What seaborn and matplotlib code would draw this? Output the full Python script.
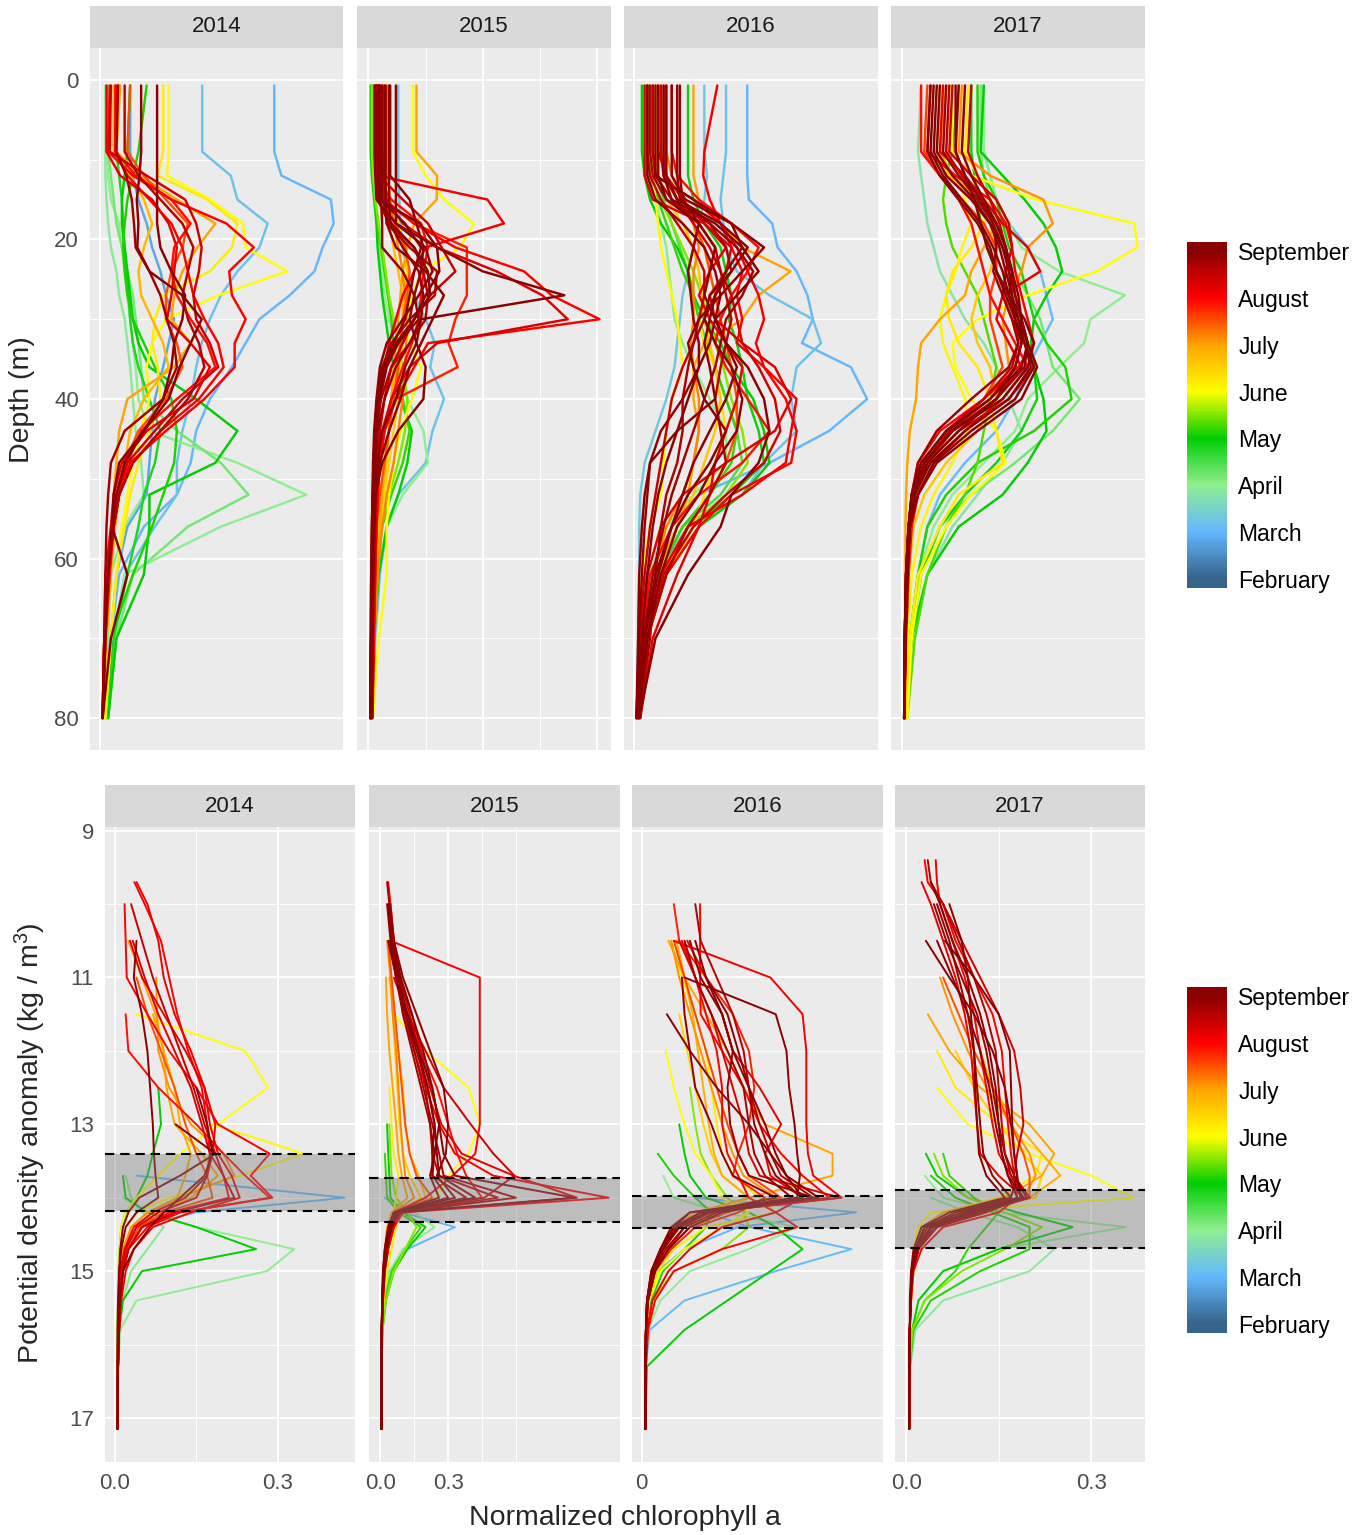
import pandas as pd
import matplotlib
matplotlib.use("Agg")
import matplotlib.pyplot as plt
from matplotlib.colors import LinearSegmentedColormap, Normalize
from matplotlib.cm import ScalarMappable
import seaborn as sns

years = [2014, 2015, 2016, 2017]
months = ["February", "March", "April", "May", "June", "July", "August", "September"]
month_num = [2, 3, 4, 5, 6, 7, 8, 9]
month_cols = ["#36648B", "#63B8FF", "#90EE90", "#00CD00", "#FFFF00", "#FFA500", "#FF0000", "#8B0000"]

# levels of the profiles
depth_lvls = [0.7, 9, 12, 15, 18, 21, 24, 27, 30, 33, 36, 40, 44, 48, 52, 56, 62, 70, 80]
sigma_lvls = [9.4, 9.7, 10.0, 10.5, 11.0, 11.5, 12.0, 12.5, 13.0, 13.4, 13.7, 14.0, 14.2, 14.4, 14.7,
              15.0, 15.4, 15.8, 16.3, 17.15]

_ = None
# normalized chl a (x1000), one profile per row: (month, values on depth_lvls)
depth_2014 = [
    (3.0, [317, 317, 330, 420, 425, 405, 390, 345, 290, 265, 240, 200, 175, 165, 140, 80, 35, 20, 10]),
    (3.2, [186, 186, 238, 250, 305, 290, 250, 220, 200, 185, 175, 165, 150, 140, 140, 100, 45, 25, 15]),
    (2.8, [55, 55, 60, 70, 85, 95, 110, 120, 135, 125, 115, 100, 95, 90, 85, 50, 30, 20, 15]),
    (4.0, [12, 12, 15, 20, 35, 40, 45, 50, 55, 60, 65, 70, 90, 250, 375, 220, 45, 30, 15]),
    (4.2, [15, 15, 20, 25, 30, 40, 50, 60, 65, 70, 75, 80, 140, 220, 270, 160, 60, 30, 15]),
    (3.9, [10, 10, 10, 12, 15, 20, 30, 35, 45, 50, 55, 60, 65, 75, 80, 45, 20, 15, 10]),
    (5.0, [55, 50, 45, 40, 40, 45, 50, 55, 60, 70, 90, 175, 250, 210, 90, 90, 80, 30, 15]),
    (5.1, [85, 70, 60, 50, 45, 42, 45, 50, 60, 80, 100, 130, 140, 135, 115, 95, 60, 20, 12]),
    (4.8, [35, 30, 35, 40, 42, 45, 48, 52, 55, 60, 70, 90, 110, 100, 80, 70, 50, 25, 12]),
    (6.0, [125, 125, 122, 200, 260, 265, 340, 215, 120, 95, 85, 90, 75, 60, 50, 40, 30, 20, 10]),
    (6.2, [115, 115, 105, 195, 250, 240, 200, 115, 100, 95, 105, 110, 90, 70, 55, 45, 30, 20, 10]),
    (7.0, [37, 30, 73, 140, 210, 177, 150, 135, 130, 165, 135, 50, 35, 30, 25, 22, 18, 12, 5]),
    (6.8, [25, 25, 55, 80, 95, 80, 70, 75, 95, 115, 125, 80, 55, 45, 35, 28, 20, 12, 5]),
    (7.5, [55, 50, 80, 120, 160, 150, 130, 120, 120, 140, 150, 120, 70, 45, 30, 22, 15, 8, 5]),
    (8.0, [18, 15, 60, 130, 230, 280, 235, 240, 265, 245, 245, 190, 120, 55, 35, 25, 15, 10, 5]),
    (8.0, [30, 28, 50, 90, 130, 150, 160, 170, 190, 215, 225, 180, 110, 60, 35, 25, 15, 8, 5]),
    (7.9, [28, 28, 65, 130, 165, 135, 130, 140, 165, 195, 210, 140, 75, 50, 35, 25, 18, 10, 5]),
    (8.2, [12, 12, 37, 95, 125, 140, 135, 130, 122, 165, 200, 170, 85, 40, 25, 20, 10, 8, 5]),
    (8.4, [20, 18, 85, 155, 175, 185, 180, 170, 175, 200, 215, 150, 100, 50, 30, 22, 15, 8, 5]),
    (8.6, [45, 45, 70, 110, 150, 170, 160, 150, 160, 180, 190, 160, 110, 60, 35, 25, 15, 8, 5]),
    (9.0, [75, 75, 72, 67, 70, 68, 90, 150, 185, 165, 145, 125, 80, 35, 25, 22, 50, 20, 5]),
    (9.1, [104, 104, 104, 104, 104, 110, 130, 155, 150, 135, 130, 115, 80, 45, 30, 22, 15, 10, 5]),
    (8.8, [33, 30, 48, 58, 62, 65, 90, 110, 122, 135, 140, 115, 45, 20, 15, 12, 10, 8, 5]),
]
depth_2015 = [
    (8.1, [34, 34, 40, 520, 592, 250, 200, 150, 120, 90, 70, 50, 40, 35, 30, 28, 25, 20, 15]),
    (8.0, [50, 50, 55, 70, 200, 380, 680, 800, 1010, 260, 200, 120, 70, 50, 40, 35, 30, 25, 18]),
    (9.0, [120, 120, 120, 120, 120, 300, 500, 856, 230, 210, 160, 120, 60, 40, 30, 25, 20, 18, 15]),
    (8.3, [60, 60, 65, 80, 150, 300, 560, 760, 871, 300, 180, 100, 60, 45, 35, 30, 25, 20, 15]),
    (7.8, [30, 30, 40, 60, 200, 430, 430, 430, 380, 350, 390, 120, 70, 50, 40, 35, 28, 20, 15]),
    (7.0, [210, 210, 300, 298, 200, 170, 150, 140, 130, 120, 110, 100, 90, 70, 60, 50, 40, 25, 15]),
    (6.0, [195, 195, 250, 330, 460, 400, 230, 190, 170, 180, 230, 190, 140, 110, 90, 80, 80, 45, 20]),
    (3.2, [130, 130, 130, 135, 140, 150, 170, 200, 250, 290, 270, 330, 280, 250, 130, 80, 50, 30, 20]),
    (4.0, [15, 15, 20, 30, 40, 50, 60, 70, 90, 110, 130, 170, 240, 260, 150, 80, 40, 25, 15]),
    (5.0, [10, 10, 15, 25, 35, 40, 50, 60, 75, 90, 110, 140, 190, 170, 130, 80, 45, 25, 12]),
    (5.2, [20, 20, 25, 30, 40, 55, 70, 85, 100, 110, 125, 150, 180, 150, 100, 60, 35, 20, 10]),
    (5.5, [15, 15, 20, 30, 45, 60, 75, 90, 110, 130, 150, 170, 160, 130, 90, 50, 30, 18, 10]),
    (6.5, [70, 70, 75, 90, 130, 160, 170, 160, 150, 150, 140, 130, 110, 90, 70, 50, 35, 22, 12]),
    (7.5, [40, 40, 45, 60, 120, 160, 180, 170, 150, 140, 130, 110, 90, 70, 50, 35, 25, 18, 10]),
    (9.0, [41, 41, 41, 45, 225, 300, 310, 250, 200, 120, 70, 45, 35, 30, 25, 22, 20, 15, 10]),
    (9.2, [75, 75, 75, 75, 80, 120, 250, 330, 280, 230, 180, 140, 90, 50, 30, 25, 20, 15, 10]),
    (8.9, [50, 50, 50, 55, 60, 60, 150, 200, 220, 130, 60, 40, 30, 25, 22, 20, 18, 12, 8]),
    (9.1, [95, 95, 95, 180, 210, 240, 230, 200, 180, 210, 250, 240, 130, 60, 30, 25, 20, 15, 10]),
    (8.5, [45, 45, 45, 150, 260, 320, 380, 270, 200, 150, 100, 70, 50, 40, 35, 30, 25, 18, 12]),
    (7.2, [80, 80, 85, 95, 110, 130, 150, 160, 170, 165, 160, 150, 130, 110, 80, 60, 40, 25, 15]),
    (6.7, [60, 60, 65, 75, 90, 110, 130, 150, 150, 140, 120, 100, 90, 80, 60, 40, 30, 20, 12]),
    (7.9, [25, 25, 30, 100, 230, 260, 240, 230, 220, 190, 150, 100, 70, 50, 40, 35, 30, 22, 15]),
    (9.0, [30, 30, 30, 35, 120, 250, 280, 220, 150, 80, 50, 35, 25, 20, 18, 15, 12, 10, 8]),
    (9.1, [60, 60, 60, 60, 100, 200, 260, 270, 200, 130, 80, 50, 35, 25, 20, 18, 15, 12, 8]),
    (8.9, [90, 90, 90, 90, 95, 150, 220, 240, 230, 180, 120, 70, 40, 30, 25, 20, 15, 12, 8]),
    (9.2, [45, 45, 45, 50, 160, 230, 200, 180, 160, 110, 70, 45, 30, 22, 18, 15, 12, 10, 8]),
    (8.7, [70, 70, 70, 75, 80, 180, 300, 290, 180, 100, 60, 40, 30, 25, 20, 18, 15, 12, 8]),
    (8.6, [35, 35, 35, 40, 90, 200, 240, 260, 250, 180, 100, 55, 35, 25, 20, 18, 15, 12, 8]),
]
depth_2016 = [
    (3.0, [209, 209, 209, 212, 255, 265, 300, 320, 330, 310, 400, 430, 360, 250, 120, 60, 30, 20, 12]),
    (3.2, [170, 170, 165, 160, 165, 170, 190, 250, 330, 345, 300, 290, 300, 240, 200, 100, 40, 20, 12]),
    (3.3, [130, 130, 135, 130, 120, 110, 100, 90, 85, 80, 75, 60, 40, 20, 12, 10, 10, 8, 6]),
    (8.1, [154, 130, 128, 140, 160, 190, 210, 230, 240, 225, 240, 300, 290, 280, 200, 100, 50, 25, 12]),
    (6.0, [30, 30, 35, 40, 45, 50, 60, 70, 80, 85, 90, 70, 60, 55, 50, 30, 15, 10, 5]),
    (4.0, [20, 20, 25, 40, 50, 60, 65, 70, 75, 90, 110, 140, 170, 170, 110, 60, 30, 15, 8]),
    (4.5, [35, 35, 40, 55, 70, 85, 100, 110, 120, 135, 150, 170, 190, 200, 160, 90, 45, 20, 8]),
    (5.0, [15, 15, 20, 30, 50, 80, 100, 110, 130, 160, 180, 220, 240, 250, 200, 120, 60, 25, 10]),
    (5.2, [28, 28, 30, 45, 60, 75, 90, 110, 120, 130, 150, 170, 190, 180, 140, 90, 45, 20, 10]),
    (5.5, [25, 25, 30, 50, 70, 90, 110, 125, 140, 150, 165, 180, 200, 210, 170, 100, 50, 20, 8]),
    (4.9, [100, 100, 100, 110, 130, 160, 170, 180, 175, 190, 200, 210, 230, 240, 180, 110, 55, 25, 10]),
    (7.0, [110, 110, 110, 120, 160, 200, 289, 230, 200, 130, 110, 110, 120, 110, 100, 80, 40, 20, 10]),
    (7.2, [60, 60, 70, 90, 110, 120, 110, 110, 110, 105, 110, 120, 120, 110, 90, 60, 35, 20, 10]),
    (6.3, [50, 50, 55, 80, 110, 130, 140, 130, 120, 130, 150, 160, 170, 150, 130, 110, 60, 25, 10]),
    (6.6, [40, 40, 45, 60, 90, 110, 120, 125, 130, 140, 150, 160, 150, 130, 110, 80, 45, 20, 8]),
    (7.5, [55, 55, 60, 80, 110, 130, 140, 150, 160, 170, 180, 190, 190, 170, 140, 100, 50, 20, 8]),
    (8.0, [35, 35, 40, 110, 160, 180, 200, 190, 200, 190, 240, 280, 300, 290, 180, 120, 60, 25, 10]),
    (8.2, [45, 45, 60, 90, 130, 170, 140, 120, 140, 170, 200, 190, 170, 150, 140, 120, 80, 35, 12]),
    (7.9, [70, 70, 80, 120, 180, 230, 210, 180, 160, 150, 170, 210, 250, 200, 120, 70, 30, 15, 8]),
    (8.5, [25, 25, 30, 50, 80, 110, 130, 130, 120, 110, 90, 70, 60, 50, 40, 30, 20, 10, 5]),
    (8.4, [50, 50, 55, 80, 110, 140, 160, 180, 190, 200, 230, 260, 270, 240, 170, 110, 55, 25, 8]),
    (8.6, [35, 35, 40, 70, 120, 150, 160, 170, 180, 170, 160, 150, 160, 170, 140, 100, 60, 25, 8]),
    (9.0, [40, 40, 40, 110, 180, 200, 170, 150, 140, 130, 140, 150, 80, 30, 20, 15, 10, 8, 5]),
    (9.1, [55, 55, 55, 70, 150, 200, 230, 190, 150, 170, 210, 240, 250, 230, 180, 160, 100, 40, 10]),
    (8.9, [85, 85, 85, 90, 120, 110, 100, 105, 110, 120, 120, 90, 50, 30, 25, 20, 15, 10, 5]),
    (9.2, [70, 70, 70, 95, 180, 240, 200, 160, 120, 100, 110, 130, 170, 140, 100, 70, 40, 20, 8]),
    (8.7, [30, 30, 35, 60, 140, 170, 180, 150, 130, 110, 100, 90, 90, 80, 60, 50, 40, 30, 10]),
    (8.3, [20, 20, 20, 35, 130, 180, 170, 140, 150, 200, 260, 290, 260, 170, 90, 50, 25, 12, 6]),
    (9.0, [60, 60, 60, 80, 160, 210, 180, 140, 130, 150, 180, 200, 190, 150, 120, 80, 50, 25, 8]),
    (9.1, [45, 45, 45, 60, 120, 150, 140, 130, 150, 170, 190, 170, 140, 110, 90, 70, 45, 20, 8]),
    (8.8, [80, 80, 80, 85, 140, 190, 220, 200, 170, 160, 150, 130, 110, 90, 70, 55, 35, 18, 6]),
    (9.2, [25, 25, 25, 40, 90, 130, 150, 160, 150, 140, 120, 100, 80, 60, 45, 35, 25, 15, 5]),
]
depth_2017 = [
    (6.0, [79, 79, 110, 213, 370, 375, 310, 200, 120, 80, 85, 110, 150, 165, 110, 70, 30, 15, 8]),
    (4.0, [130, 130, 140, 150, 170, 190, 250, 355, 300, 290, 250, 200, 180, 130, 80, 50, 25, 12, 6]),
    (4.2, [125, 125, 130, 140, 150, 160, 180, 200, 220, 230, 240, 283, 240, 180, 110, 60, 30, 15, 6]),
    (3.8, [30, 25, 30, 35, 40, 50, 60, 80, 100, 130, 150, 170, 190, 160, 120, 80, 40, 15, 6]),
    (5.0, [130, 125, 160, 195, 225, 245, 255, 230, 210, 205, 210, 225, 230, 200, 160, 90, 40, 15, 6]),
    (5.1, [120, 120, 130, 150, 160, 170, 190, 200, 210, 230, 260, 270, 210, 120, 70, 40, 25, 12, 6]),
    (4.9, [110, 110, 115, 120, 125, 135, 150, 170, 190, 200, 210, 215, 190, 150, 100, 60, 30, 15, 6]),
    (5.3, [90, 80, 70, 65, 70, 80, 100, 120, 130, 140, 150, 140, 130, 120, 100, 70, 40, 20, 8]),
    (3.1, [130, 130, 140, 150, 170, 200, 220, 230, 240, 220, 200, 180, 150, 100, 60, 40, 25, 12, 6]),
    (7.0, [70, 60, 80, 120, 150, 130, 110, 100, 60, 30, 25, 22, 12, 8, 6, 5, 5, 4, 3]),
    (7.1, [95, 90, 140, 225, 240, 200, 190, 170, 160, 165, 170, 150, 80, 40, 25, 15, 10, 6, 4]),
    (6.6, [60, 55, 75, 110, 140, 150, 140, 120, 110, 120, 140, 150, 120, 70, 35, 18, 10, 6, 3]),
    (7.6, [40, 35, 60, 95, 130, 150, 150, 140, 140, 150, 160, 130, 80, 40, 20, 12, 8, 5, 3]),
    (8.0, [45, 40, 85, 140, 165, 175, 180, 190, 200, 210, 185, 130, 60, 25, 15, 10, 8, 5, 3]),
    (8.2, [65, 60, 100, 130, 160, 200, 220, 160, 150, 170, 190, 150, 80, 35, 18, 12, 8, 5, 3]),
    (7.9, [30, 30, 60, 90, 110, 120, 130, 140, 160, 180, 200, 160, 100, 50, 25, 15, 10, 6, 3]),
    (8.4, [80, 75, 110, 150, 170, 175, 165, 160, 175, 195, 210, 170, 90, 40, 20, 12, 8, 5, 3]),
    (8.6, [75, 70, 95, 125, 150, 165, 175, 180, 190, 190, 180, 140, 75, 35, 18, 10, 6, 4, 3]),
    (8.5, [110, 105, 120, 140, 155, 165, 170, 175, 180, 185, 175, 130, 70, 30, 15, 10, 6, 4, 3]),
    (9.0, [55, 50, 70, 110, 140, 160, 175, 185, 190, 200, 190, 140, 70, 30, 15, 10, 6, 4, 3]),
    (9.1, [100, 95, 110, 130, 150, 165, 175, 170, 180, 190, 180, 150, 90, 40, 20, 12, 8, 5, 3]),
    (8.8, [70, 65, 90, 120, 145, 150, 145, 160, 175, 185, 170, 110, 55, 25, 15, 10, 6, 4, 3]),
    (9.2, [85, 85, 100, 115, 125, 135, 150, 170, 195, 210, 200, 160, 80, 35, 18, 10, 6, 4, 3]),
    (9.0, [60, 55, 80, 115, 140, 155, 165, 175, 185, 195, 205, 170, 100, 45, 20, 12, 8, 5, 3]),
    (8.9, [90, 85, 100, 125, 145, 160, 170, 180, 190, 200, 195, 150, 80, 35, 18, 10, 6, 4, 3]),
    (9.1, [45, 40, 60, 90, 120, 140, 150, 165, 180, 195, 210, 180, 110, 50, 25, 12, 8, 5, 3]),
    (9.2, [50, 45, 65, 95, 125, 145, 160, 170, 185, 200, 215, 190, 120, 55, 25, 12, 8, 5, 3]),
    (6.2, [105, 100, 120, 140, 130, 110, 80, 70, 75, 90, 120, 140, 150, 160, 90, 60, 25, 12, 5]),
    (6.1, [75, 70, 90, 100, 110, 95, 85, 70, 60, 65, 80, 100, 105, 80, 50, 30, 15, 8, 4]),
]

# normalized chl a (x1000) on sigma_lvls, None above the surface
sigma_2014 = [
    (8.0, [_, 36, 55, 85, 100, 115, 135, 160, 170, 175, 200, 210, 100, 50, 25, 15, 10, 8, 6, 5]),
    (8.1, [_, 40, 60, 80, 90, 110, 140, 165, 175, 190, 215, 230, 140, 70, 35, 20, 12, 8, 6, 5]),
    (8.0, [_, _, 18, 20, 22, 60, 100, 150, 190, 285, 250, 290, 120, 60, 25, 15, 10, 8, 6, 5]),
    (8.3, [_, _, _, 33, 55, 80, 110, 140, 160, 175, 170, 150, 80, 40, 20, 12, 9, 7, 6, 5]),
    (7.9, [_, _, _, _, _, 20, 25, 80, 150, 200, 240, 285, 120, 50, 25, 15, 10, 8, 6, 5]),
    (8.2, [_, _, _, 28, 50, 90, 130, 165, 185, 180, 170, 130, 70, 35, 18, 10, 8, 6, 5, 5]),
    (8.5, [_, _, 30, 50, 70, 95, 120, 145, 165, 185, 200, 220, 110, 50, 25, 15, 10, 8, 6, 5]),
    (7.5, [_, _, _, _, 40, 60, 85, 110, 130, 150, 170, 180, 90, 45, 22, 12, 9, 7, 6, 5]),
    (9.0, [_, _, _, 40, 35, 50, 60, 65, 70, 72, 75, 80, 40, 20, 12, 8, 6, 5, 5, 5]),
    (9.1, [_, _, _, _, _, _, _, _, 112, 185, 120, 45, 25, 15, 10, 8, 7, 6, 5, 5]),
    (9.0, [_, _, _, _, _, _, _, 150, 170, 180, 165, 120, 90, 65, 35, 15, 9, 7, 6, 5]),
    (7.0, [_, _, _, 25, 50, 75, 90, 95, 110, 160, 190, 140, 80, 40, 20, 12, 9, 7, 6, 5]),
    (7.1, [_, _, _, _, 76, 78, 80, 100, 140, 200, 220, 120, 60, 30, 15, 10, 8, 6, 5, 5]),
    (6.9, [_, _, _, _, _, 70, 90, 110, 120, 140, 130, 115, 60, 30, 20, 12, 9, 7, 6, 5]),
    (6.0, [_, _, _, _, _, 40, 240, 282, 190, 120, 80, 40, 20, 12, 9, 7, 6, 5, 5, 5]),
    (6.1, [_, _, _, _, _, _, _, _, 180, 347, 230, 100, 40, 20, 12, 9, 7, 6, 5, 5]),
    (3.0, [_, _, _, _, _, _, _, _, _, _, 40, 423, 150, 40, 20, 12, 9, 7, 6, 5]),
    (5.0, [_, _, _, _, _, _, _, _, _, _, 15, 20, 60, 150, 260, 50, 15, 8, 6, 5]),
    (4.0, [_, _, _, _, _, _, _, _, _, _, _, 15, 60, 150, 330, 280, 40, 10, 7, 5]),
    (5.0, [_, _, _, _, _, _, _, 80, 85, 70, 60, 40, 20, 12, 9, 7, 6, 5, 5, 5]),
    (4.1, [_, _, _, _, _, _, _, _, _, _, 20, 30, 50, 90, 60, 30, 15, 8, 6, 5]),
]
sigma_2015 = [
    (8.0, [_, 35, 45, 60, 80, 100, 150, 200, 260, 330, 500, 1010, 100, 60, 35, 20, 12, 8, 6, 5]),
    (9.0, [_, _, _, 50, 90, 140, 190, 230, 260, 280, 330, 860, 80, 50, 30, 18, 10, 7, 6, 5]),
    (8.1, [_, _, _, 45, 440, 440, 440, 440, 440, 420, 320, 200, 60, 40, 25, 15, 10, 7, 6, 5]),
    (8.2, [_, _, 40, 60, 90, 140, 180, 220, 270, 360, 590, 870, 90, 50, 30, 18, 10, 7, 6, 5]),
    (7.0, [_, _, _, _, 25, 30, 40, 55, 70, 80, 95, 120, 50, 30, 20, 12, 8, 6, 5, 5]),
    (7.2, [_, _, _, 30, 45, 55, 70, 80, 90, 100, 110, 150, 60, 40, 25, 15, 9, 6, 5, 5]),
    (6.8, [_, _, _, _, 40, 60, 80, 100, 110, 130, 170, 200, 70, 45, 30, 18, 10, 7, 5, 5]),
    (7.5, [_, _, _, 35, 50, 65, 80, 95, 110, 130, 160, 230, 70, 45, 30, 18, 10, 7, 5, 5]),
    (6.5, [_, _, _, _, 45, 55, 65, 75, 85, 100, 130, 180, 80, 50, 35, 20, 11, 7, 5, 5]),
    (6.0, [_, _, _, _, _, 60, 200, 390, 440, 390, 300, 250, 80, 50, 35, 20, 12, 8, 6, 5]),
    (6.2, [_, _, _, _, _, _, _, 40, 50, 60, 80, 70, 60, 70, 50, 30, 15, 8, 6, 5]),
    (5.0, [_, _, _, _, _, _, _, _, 30, 35, 40, 45, 100, 200, 120, 60, 25, 10, 6, 5]),
    (5.2, [_, _, _, _, _, _, _, _, _, 20, 25, 30, 80, 180, 110, 50, 20, 8, 6, 5]),
    (5.5, [_, _, _, _, _, _, _, _, 40, 45, 50, 70, 120, 160, 110, 60, 25, 10, 6, 5]),
    (3.0, [_, _, _, _, _, _, _, _, _, _, _, 20, 100, 330, 120, 40, 15, 8, 6, 5]),
    (4.0, [_, _, _, _, _, _, _, _, _, _, _, 25, 150, 240, 100, 40, 15, 8, 6, 5]),
    (9.1, [_, _, 40, 60, 100, 160, 220, 280, 300, 290, 250, 330, 70, 40, 25, 15, 9, 6, 5, 5]),
    (9.2, [_, _, _, 35, 70, 110, 170, 230, 260, 240, 220, 260, 60, 35, 20, 12, 8, 6, 5, 5]),
    (8.4, [_, _, _, _, 60, 120, 200, 280, 400, 500, 593, 460, 90, 50, 30, 18, 10, 7, 5, 5]),
    (8.8, [_, _, 30, 45, 70, 100, 140, 180, 220, 240, 230, 380, 80, 45, 25, 15, 9, 6, 5, 5]),
    (7.9, [_, _, _, 40, 70, 120, 180, 250, 300, 340, 380, 450, 100, 60, 35, 20, 12, 8, 6, 5]),
    (9.0, [_, _, 35, 50, 80, 120, 170, 210, 240, 250, 260, 420, 70, 40, 25, 15, 9, 6, 5, 5]),
    (8.7, [_, 30, 40, 55, 80, 110, 150, 190, 230, 260, 280, 600, 80, 45, 25, 15, 9, 6, 5, 5]),
    (9.1, [_, _, _, 45, 75, 110, 160, 210, 240, 230, 230, 300, 60, 35, 20, 12, 8, 6, 5, 5]),
    (8.5, [_, _, 45, 60, 85, 130, 170, 200, 220, 230, 260, 520, 90, 50, 30, 18, 10, 7, 5, 5]),
]
sigma_2016 = [
    (8.0, [_, _, 109, 109, 109, 110, 150, 190, 220, 260, 300, 350, 120, 70, 40, 20, 10, 8, 7, 7]),
    (8.1, [_, _, _, 60, 240, 300, 307, 307, 307, 310, 320, 373, 120, 80, 50, 25, 12, 8, 7, 7]),
    (9.0, [_, _, _, _, _, 47, 90, 140, 200, 240, 270, 300, 90, 60, 40, 20, 10, 8, 7, 7]),
    (9.1, [_, _, _, _, 80, 250, 270, 275, 285, 290, 295, 290, 90, 55, 35, 18, 10, 8, 7, 7]),
    (7.0, [_, _, _, 50, 80, 120, 160, 190, 230, 356, 356, 200, 100, 60, 35, 18, 10, 8, 7, 7]),
    (7.1, [_, _, _, 55, 70, 90, 110, 130, 150, 170, 190, 250, 110, 70, 40, 20, 10, 8, 7, 7]),
    (6.0, [_, _, _, _, _, _, 45, 60, 80, 100, 130, 150, 200, 150, 80, 35, 14, 9, 8, 7]),
    (6.2, [_, _, _, 55, 75, 100, 120, 130, 140, 150, 170, 220, 250, 120, 60, 30, 14, 9, 8, 7]),
    (6.5, [_, _, _, _, _, 70, 85, 100, 115, 130, 150, 200, 150, 90, 50, 25, 12, 9, 7, 7]),
    (5.0, [_, _, _, _, _, _, _, _, 70, 80, 90, 120, 200, 250, 300, 240, 160, 80, 10, 7]),
    (5.1, [_, _, _, _, _, _, _, _, _, 30, 60, 100, 130, 120, 80, 40, 18, 10, 8, 7]),
    (5.5, [_, _, _, _, _, _, _, 90, 100, 110, 130, 160, 190, 200, 150, 60, 20, 10, 8, 7]),
    (4.0, [_, _, _, _, _, _, _, _, _, _, 40, 60, 150, 290, 200, 90, 35, 12, 8, 7]),
    (3.0, [_, _, _, _, _, _, _, _, _, _, _, 100, 400, 180, 80, 30, 14, 9, 8, 7]),
    (3.1, [_, _, _, _, _, _, _, _, _, _, _, _, 120, 200, 391, 250, 80, 15, 8, 7]),
    (8.3, [_, _, _, 70, 100, 130, 150, 170, 190, 200, 220, 370, 120, 70, 40, 20, 11, 8, 7, 7]),
    (8.2, [_, _, _, 85, 120, 150, 170, 220, 260, 230, 240, 300, 250, 150, 90, 50, 20, 10, 7, 7]),
    (8.9, [_, _, _, 90, 110, 150, 170, 160, 165, 180, 200, 320, 110, 65, 40, 20, 11, 8, 7, 7]),
    (9.2, [_, _, _, _, 75, 80, 90, 100, 130, 150, 170, 250, 110, 60, 35, 18, 10, 8, 7, 7]),
    (6.9, [_, _, _, 65, 80, 95, 105, 115, 125, 135, 150, 200, 110, 65, 40, 20, 11, 8, 7, 7]),
    (7.8, [_, _, 60, 70, 120, 170, 200, 210, 200, 180, 170, 230, 180, 100, 55, 25, 12, 9, 7, 7]),
    (7.6, [_, _, _, 60, 80, 100, 120, 140, 160, 180, 200, 260, 160, 90, 50, 25, 12, 8, 7, 7]),
    (8.0, [_, _, _, 75, 100, 120, 140, 150, 150, 160, 180, 200, 250, 290, 150, 60, 25, 12, 8, 7]),
    (9.0, [_, _, _, 100, 120, 160, 180, 200, 210, 230, 250, 300, 150, 90, 50, 25, 12, 8, 7, 7]),
    (8.8, [_, _, _, 80, 100, 130, 160, 190, 200, 210, 230, 280, 140, 80, 45, 22, 11, 8, 7, 7]),
    (8.6, [_, _, 100, 110, 140, 170, 190, 200, 220, 240, 260, 320, 130, 70, 40, 20, 10, 8, 7, 7]),
    (9.1, [_, _, _, _, 120, 150, 170, 200, 230, 250, 270, 330, 120, 70, 40, 20, 10, 8, 7, 7]),
]
sigma_2017 = [
    (8.0, [30, 35, 60, 80, 110, 140, 155, 160, 165, 170, 175, 180, 150, 60, 25, 12, 8, 6, 6, 5]),
    (8.1, [48, 50, 55, 75, 95, 110, 120, 130, 140, 150, 170, 200, 120, 40, 20, 10, 8, 6, 6, 5]),
    (8.2, [_, 25, 40, 60, 80, 95, 105, 110, 115, 120, 150, 190, 110, 40, 18, 10, 7, 6, 5, 5]),
    (9.0, [_, _, _, 32, 70, 110, 140, 160, 170, 175, 180, 170, 90, 30, 15, 9, 7, 6, 5, 5]),
    (9.1, [_, _, _, 63, 110, 150, 168, 170, 172, 175, 180, 185, 100, 40, 18, 10, 7, 6, 5, 5]),
    (8.9, [_, _, 50, 70, 85, 100, 110, 115, 120, 125, 140, 170, 80, 30, 15, 9, 7, 6, 5, 5]),
    (9.2, [_, _, 70, 90, 100, 105, 110, 112, 115, 118, 130, 160, 70, 25, 12, 8, 6, 6, 5, 5]),
    (7.0, [_, _, _, _, _, 35, 70, 120, 200, 240, 220, 160, 60, 25, 15, 9, 7, 6, 5, 5]),
    (7.1, [_, _, _, _, 55, 75, 100, 130, 170, 200, 210, 190, 80, 30, 15, 10, 8, 6, 5, 5]),
    (7.5, [_, _, _, _, 60, 85, 110, 140, 170, 190, 200, 200, 100, 40, 18, 10, 7, 6, 5, 5]),
    (6.5, [_, _, _, _, _, _, 80, 110, 150, 190, 220, 210, 90, 40, 20, 12, 8, 6, 5, 5]),
    (6.0, [_, _, _, _, _, _, _, 50, 100, 200, 300, 368, 40, 20, 12, 9, 7, 6, 5, 5]),
    (6.2, [_, _, _, _, _, _, 50, 80, 150, 220, 210, 150, 60, 30, 20, 12, 8, 6, 5, 5]),
    (5.0, [_, _, _, _, _, _, _, _, _, 32, 50, 100, 180, 270, 150, 60, 20, 10, 6, 5]),
    (5.1, [_, _, _, _, _, _, _, _, _, _, 40, 80, 140, 200, 200, 120, 40, 12, 6, 5]),
    (5.5, [_, _, _, _, _, _, _, _, _, 45, 60, 100, 160, 220, 160, 90, 30, 10, 6, 5]),
    (4.0, [_, _, _, _, _, _, _, _, _, _, 30, 60, 150, 356, 150, 60, 20, 10, 6, 5]),
    (3.9, [_, _, _, _, _, _, _, _, _, _, _, 40, 100, 180, 240, 200, 60, 15, 7, 5]),
    (8.4, [_, _, 60, 90, 120, 150, 175, 185, 190, 180, 175, 200, 120, 50, 20, 10, 7, 6, 5, 5]),
    (6.9, [_, _, _, _, _, _, 120, 140, 180, 220, 250, 200, 90, 35, 15, 10, 7, 6, 5, 5]),
    (5.2, [_, _, _, _, _, _, _, _, _, 60, 70, 110, 150, 130, 100, 80, 30, 10, 6, 5]),
    (9.0, [_, 40, 55, 75, 100, 120, 135, 145, 150, 155, 165, 190, 110, 40, 18, 10, 7, 6, 5, 5]),
    (8.8, [_, _, 45, 65, 90, 115, 130, 140, 150, 160, 175, 195, 120, 45, 20, 10, 7, 6, 5, 5]),
    (9.1, [_, _, _, 50, 75, 100, 120, 135, 145, 155, 165, 180, 100, 35, 15, 9, 7, 6, 5, 5]),
    (8.6, [35, 40, 60, 85, 110, 130, 145, 150, 155, 160, 170, 190, 130, 50, 20, 10, 7, 6, 5, 5]),
]

# shaded density band per year (kg/m3)
band_lo = [13.40, 13.73, 13.97, 13.89]
band_hi = [14.18, 14.33, 14.41, 14.69]

depth_profiles = {2014: depth_2014, 2015: depth_2015, 2016: depth_2016, 2017: depth_2017}
sigma_profiles = {2014: sigma_2014, 2015: sigma_2015, 2016: sigma_2016, 2017: sigma_2017}


def to_long(profiles, levels, name):
    rows = []
    for yr, plist in profiles.items():
        for i, (m, vals) in enumerate(plist):
            for lv, v in zip(levels, vals):
                if v is not None:
                    rows.append({"year": yr, "cast": f"{yr}_{i}", "month": m, name: lv, "chl": v / 1000})
    return pd.DataFrame(rows)


top = to_long(depth_profiles, depth_lvls, "depth")
bot = to_long(sigma_profiles, sigma_lvls, "sigma")

# colour scale
lo_m, hi_m = 1.8, 9.2
norm = Normalize(lo_m, hi_m)
stops = [(0.0, month_cols[0])] + [((m - lo_m) / (hi_m - lo_m), c) for m, c in zip(month_num, month_cols)] \
    + [(1.0, month_cols[-1])]
cmap = LinearSegmentedColormap.from_list("months", stops)

sns.set_style("white")
plt.rcParams["font.family"] = ["Liberation Sans", "DejaVu Sans"]
plt.rcParams["mathtext.fontset"] = "custom"
plt.rcParams["mathtext.rm"] = "Liberation Sans"
plt.rcParams["mathtext.it"] = "Liberation Sans:italic"

W, H = 1370, 1535
fig = plt.figure(figsize=(W / 100, H / 100), dpi=100)


def px_ax(x0, x1, y0, y1):
    return fig.add_axes([x0 / W, 1 - y1 / H, (x1 - x0) / W, (y1 - y0) / H])


xlims = {2014: (-0.018, 0.442), 2015: (-0.05, 1.06), 2016: (-0.018, 0.45), 2017: (-0.018, 0.387)}
top_x = [(90, 343), (357, 611), (624, 878), (891, 1145)]
bot_x = [(105, 355), (369, 620), (632, 883), (895, 1145)]
top_vgrid = {2014: ([0], []), 2015: ([0, 0.5, 1.0], [0.25, 0.75]), 2016: ([0], []), 2017: ([0], [])}
bot_vgrid = {2014: ([0, 0.3], [0.15]), 2015: ([0, 0.3], [0.15, 0.45, 0.6]), 2016: ([0], []),
             2017: ([0, 0.3], [0.15])}
bot_xticks = {2014: ([0, 0.3], ["0.0", "0.3"]), 2015: ([0, 0.3], ["0.0", "0.3"]), 2016: ([0], ["0"]),
              2017: ([0, 0.3], ["0.0", "0.3"])}

MAJ, MIN = 1.3, 0.65
tick_kw = dict(length=4, width=1, color="#333333", labelsize=16, labelcolor="#4D4D4D", pad=4)


def style_panel(ax, hmaj, hmin, vmaj, vmin):
    ax.set_facecolor("#EBEBEB")
    for s in ax.spines.values():
        s.set_visible(False)
    for v in hmaj:
        ax.axhline(v, color="white", lw=MAJ, zorder=0.6)
    for v in hmin:
        ax.axhline(v, color="white", lw=MIN, zorder=0.6)
    for v in vmaj:
        ax.axvline(v, color="white", lw=MAJ, zorder=0.6)
    for v in vmin:
        ax.axvline(v, color="white", lw=MIN, zorder=0.6)
    ax.set_xlabel("")
    ax.set_ylabel("")


def strip(x0, x1, y0, y1, label):
    s = px_ax(x0, x1, y0, y1)
    s.set_facecolor("#D9D9D9")
    for sp in s.spines.values():
        sp.set_visible(False)
    s.set_xticks([])
    s.set_yticks([])
    s.text(0.5, 0.5, label, ha="center", va="center", fontsize=16, color="#1A1A1A", transform=s.transAxes)


for i, yr in enumerate(years):
    # depth profiles
    x0, x1 = top_x[i]
    ax = px_ax(x0, x1, 48, 750)
    sns.lineplot(data=top[top["year"] == yr], x="chl", y="depth", hue="month", units="cast",
                 estimator=None, sort=False, palette=cmap, hue_norm=norm, legend=False,
                 linewidth=1.75, ax=ax)
    style_panel(ax, [0, 20, 40, 60, 80], [10, 30, 50, 70], *top_vgrid[yr])
    ax.set_xlim(*xlims[yr])
    ax.set_ylim(84.0, -4.0)
    ax.set_xticks([])
    ax.set_yticks([0, 20, 40, 60, 80])
    if i == 0:
        ax.tick_params(axis="y", **tick_kw)
    else:
        ax.tick_params(axis="y", left=False, labelleft=False)
    strip(x0, x1, 6, 48, str(yr))

    # density profiles
    x0, x1 = bot_x[i]
    ax = px_ax(x0, x1, 827, 1462)
    sns.lineplot(data=bot[bot["year"] == yr], x="chl", y="sigma", hue="month", units="cast",
                 estimator=None, sort=False, palette=cmap, hue_norm=norm, legend=False,
                 linewidth=1.4, ax=ax)
    style_panel(ax, [9, 11, 13, 15, 17], [10, 12, 14, 16], *bot_vgrid[yr])
    ax.axhspan(band_lo[i], band_hi[i], color="#7F7F7F", alpha=0.42, lw=0, zorder=3)
    for b in (band_lo[i], band_hi[i]):
        ax.axhline(b, color="black", lw=1.5, ls=(0, (4.5, 2.8)), zorder=4)
    ax.set_xlim(*xlims[yr])
    ax.set_ylim(17.6, 8.95)
    ticks, labels = bot_xticks[yr]
    ax.set_xticks(ticks)
    ax.set_xticklabels(labels)
    ax.tick_params(axis="x", **tick_kw)
    ax.set_yticks([9, 11, 13, 15, 17])
    if i == 0:
        ax.tick_params(axis="y", **tick_kw)
    else:
        ax.tick_params(axis="y", left=False, labelleft=False)
    strip(x0, x1, 785, 827, str(yr))

# colour bars
sm = ScalarMappable(norm=norm, cmap=cmap)
for y0, y1 in [(242, 588), (987, 1333)]:
    cax = px_ax(1187, 1227, y0, y1)
    cb = fig.colorbar(sm, cax=cax)
    cb.outline.set_visible(False)
    cb.set_ticks(month_num)
    cb.set_ticklabels(months)
    cax.tick_params(axis="y", direction="in", length=7, width=1, color="white", left=True, right=True,
                    labelleft=False, labelright=True, labelsize=16.5, labelcolor="black", pad=8)

fig.text(22 / W, 1 - 400 / H, "Depth (m)", rotation=90, ha="center", va="center", fontsize=20.5)
fig.text(30 / W, 1 - 1143 / H, "Potential density anomaly (kg / m$^3$)", rotation=90,
         ha="center", va="center", fontsize=20.5)
fig.text(625 / W, 1 - 1518 / H, "Normalized chlorophyll a", ha="center", va="center", fontsize=20.5)

fig.savefig("out.png", dpi=100)
